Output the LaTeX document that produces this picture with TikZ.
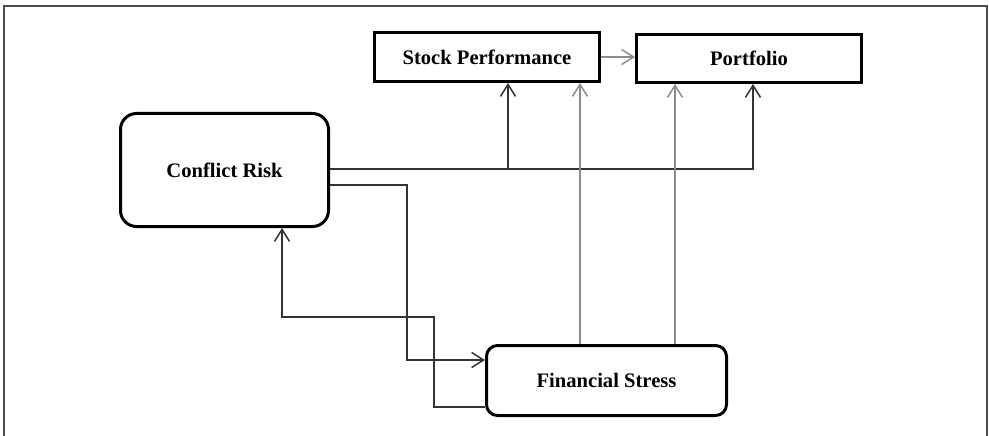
\documentclass[tikz,border=0pt]{standalone}
\usepackage{fontspec}
\setmainfont{Liberation Serif}
\usetikzlibrary{arrows.meta}
\begin{document}
\begin{tikzpicture}[x=1pt,y=-1pt,
  box/.style={draw=black, line width=3pt, fill=white, inner sep=0pt,
    font=\fontsize{20.6}{24}\selectfont\bfseries},
  conn/.style={line width=1.5pt, draw=black!80,
    -{Straight Barb[length=12pt,width=15pt,line width=1.5pt]}},
  gconn/.style={conn, draw=black!45},
  frame/.style={line width=2pt, draw=black!70}]
\useasboundingbox (0,0) rectangle (989,436);
\draw[frame] (4,437) -- (4,6.5) -- (987,6.5) -- (987,437);

\node[box, minimum width=225pt, minimum height=49pt] (sp) at (487,57) {Stock Performance};
\node[box, minimum width=225pt, minimum height=48pt] (pf) at (749,58.5) {Portfolio};
\node[box, rounded corners=16pt, minimum width=208pt, minimum height=113pt] (cr) at (224.5,170) {Conflict Risk};
\node[box, rounded corners=11pt, minimum width=240pt, minimum height=70pt] (fs) at (606.5,380.5) {Financial Stress};

\coordinate (ya) at (0,169);
\coordinate (yb) at (0,185);
\coordinate (xb) at (407,0);
\coordinate (yc) at (0,360);
\coordinate (yd) at (0,407);
\coordinate (xd) at (434,0);
\coordinate (ye) at (0,317);
\coordinate (xe) at (282,0);
\coordinate (xs) at (508,0);
\coordinate (xp) at (753,0);
\coordinate (xg1) at (580,0);
\coordinate (xg2) at (675,0);

% Conflict Risk to Stock Performance and Portfolio
\draw[conn] (cr.east |- ya) -| (pf.south -| xp);
\draw[conn] (xs |- ya) -- (sp.south -| xs);
% Conflict Risk to Financial Stress
\draw[conn] (cr.east |- yb) -- (xb |- yb) -- (xb |- yc) -- (fs.west |- yc);
% Financial Stress to Conflict Risk
\draw[conn] (fs.west |- yd) -- (xd |- yd) -- (xd |- ye) -- (xe |- ye) -- (cr.south -| xe);
% Financial Stress to Stock Performance and Portfolio
\draw[gconn] (fs.north -| xg1) -- (sp.south -| xg1);
\draw[gconn] (fs.north -| xg2) -- (pf.south -| xg2);
% Stock Performance to Portfolio
\draw[gconn] (sp.east) -- (pf.west |- sp.east);
\end{tikzpicture}
\end{document}
